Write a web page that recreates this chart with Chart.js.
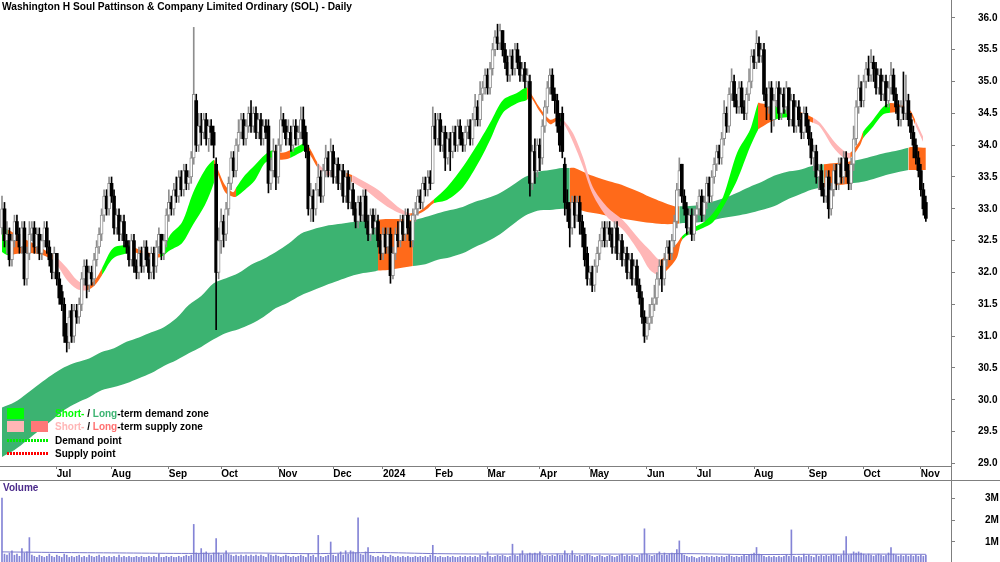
<!DOCTYPE html>
<html>
<head>
<meta charset="utf-8">
<script src="https://cdn.jsdelivr.net/npm/chart.js@4"></script>
<style>
  body { margin: 0; background: #fff; font-family: "Liberation Sans", Arial, sans-serif; }
  #wrap { position: relative; width: 1000px; height: 562px; overflow: hidden; }
  #price { position: absolute; left: 0; top: 0; }
  #vol { position: absolute; left: 0; top: 480px; }
  .title { position: absolute; left: 2px; top: 1px; font-size: 10.2px; font-weight: bold; color: #000; white-space: nowrap; }
  .legend { position: absolute; left: 7px; top: 407px; font-size: 10px; font-weight: bold; color: #000; }
  .legend .row { position: relative; height: 13.3px; line-height: 13px; white-space: nowrap; }
  .legend .sw { position: absolute; top: 1px; width: 17px; height: 11px; }
  .legend .dots { position: absolute; top: 5px; left: 0; width: 41px; height: 3px; }
  .legend .txt { position: absolute; left: 48px; top: 0; }
  .vlabel { position: absolute; left: 3px; top: 482px; font-size: 10px; font-weight: bold; color: #4b2a8a; }
  .hline { position: absolute; left: 0; top: 480px; width: 1000px; height: 1px; background: #7f7f7f; }
  .vline { position: absolute; left: 951px; top: 466px; width: 1px; height: 14px; background: #7f7f7f; }
</style>
</head>
<body>
<div id="wrap">
  <canvas id="price" width="1000" height="480"></canvas>
  <canvas id="vol" width="1000" height="82"></canvas>
  <div class="hline"></div>
  <div class="vline"></div>
  <div class="title">Washington H Soul Pattinson &amp; Company Limited Ordinary (SOL) - Daily</div>
  <div class="legend">
    <div class="row"><span class="sw" style="left:0;background:#00ff00"></span><span class="sw" style="left:24px;background:#3cb371"></span>
      <span class="txt"><span style="color:#00ff00">Short-</span> / <span style="color:#3cb371">Long</span>-term demand zone</span></div>
    <div class="row"><span class="sw" style="left:0;background:#ffb6b6"></span><span class="sw" style="left:24px;background:#ff7878"></span>
      <span class="txt"><span style="color:#ffb6b6">Short-</span> / <span style="color:#ff7070">Long</span>-term supply zone</span></div>
    <div class="row"><span class="dots" style="background:repeating-linear-gradient(90deg,#00ee00 0 2px,transparent 2px 3px)"></span><span class="txt">Demand point</span></div>
    <div class="row"><span class="dots" style="background:repeating-linear-gradient(90deg,#ff0000 0 2px,transparent 2px 3px)"></span><span class="txt">Supply point</span></div>
  </div>
  <div class="vlabel">Volume</div>
</div>
<script>
// daily bars, index 0 = early Jun 2023
var open = [
32.7,33.0,32.5,32.6,32.2,32.5,32.8,32.6,32.4,32.7,
31.9,32.3,32.6,32.7,32.4,32.6,32.3,32.5,32.7,32.4,
32.2,32.0,32.3,31.9,31.7,31.5,31.0,30.9,31.4,31.0,
31.4,31.3,31.5,31.9,32.1,31.8,32.0,31.9,32.2,32.4,
32.6,32.9,33.2,33.0,33.4,33.2,32.7,32.9,32.6,32.8,
32.5,32.4,32.2,32.5,32.1,32.0,32.3,32.1,32.4,32.2,
32.0,32.3,32.1,32.4,32.6,32.3,32.5,32.9,33.1,33.0,
33.3,33.2,33.5,33.3,33.6,33.4,33.5,33.8,34.7,34.0,
34.3,34.2,34.4,34.1,34.3,34.2,33.7,32.0,32.5,32.8,
32.6,33.0,33.4,33.8,33.6,34.0,34.2,34.4,34.1,34.3,
34.5,34.3,34.5,34.2,34.4,34.1,34.3,34.3,33.4,33.6,
33.9,33.5,34.0,34.4,34.3,34.1,34.2,34.0,34.3,34.1,
34.2,34.4,34.2,33.9,33.0,33.2,33.0,33.3,33.5,33.2,
33.6,33.8,33.6,33.9,33.5,33.7,33.4,33.6,33.2,33.5,
33.1,33.3,33.0,32.8,33.1,32.9,33.2,32.8,32.6,32.9,
32.7,32.8,32.5,32.3,32.6,32.4,32.6,31.95,32.3,32.6,
32.5,32.8,32.6,32.9,32.7,32.5,32.9,33.0,33.2,33.1,
33.4,33.3,33.5,33.4,34.3,34.1,34.4,34.0,34.2,33.8,
34.1,33.9,34.2,34.0,34.3,34.1,34.0,34.2,34.3,34.1,
34.4,34.6,34.4,34.8,34.9,35.1,34.9,35.2,35.5,35.7,
35.6,35.8,35.5,35.3,35.1,35.4,35.2,35.5,35.3,35.1,
35.2,35.0,35.0,33.4,33.9,33.6,34.0,33.8,34.3,34.6,
34.9,35.1,34.8,34.7,34.3,34.5,33.7,33.1,33.0,32.7,
33.1,32.9,33.1,32.8,32.6,32.3,31.9,32.0,31.8,32.1,
32.3,32.5,32.7,32.5,32.7,32.6,32.4,32.7,32.3,32.5,
32.2,32.3,32.0,32.2,31.9,32.1,31.8,31.6,31.3,31.0,
31.2,31.3,31.5,31.6,31.9,32.1,31.9,32.2,32.4,32.3,
32.5,32.8,33.3,33.7,33.2,33.0,32.7,32.9,32.6,32.9,
33.0,33.2,32.9,33.1,33.4,33.2,33.5,33.7,33.9,33.8,
34.1,34.5,34.3,34.8,35.0,34.7,34.6,34.9,34.6,34.5,
34.8,35.0,35.4,35.3,35.6,35.4,35.5,34.8,34.6,34.9,
34.4,34.7,34.9,34.5,34.8,34.6,34.9,34.4,34.7,34.3,
34.6,34.4,34.2,34.5,34.3,34.1,33.8,33.9,33.5,33.6,
33.3,33.2,33.5,33.0,33.3,33.6,33.4,33.7,33.5,33.8,
33.6,33.4,33.7,34.1,34.6,34.9,34.7,35.0,35.2,35.1,
35.3,35.2,34.9,35.1,34.8,35.0,34.7,34.9,35.1,34.8,
34.6,34.4,34.6,34.5,34.7,34.4,34.2,34.0,33.8,33.6,
33.3,33.1];
var high = [
33.2,33.1,32.8,32.7,32.6,32.9,32.9,32.7,32.8,32.8,
32.4,32.8,32.8,32.8,32.7,32.7,32.6,32.8,32.8,32.5,
32.3,32.4,32.3,32.0,31.8,31.6,31.2,31.4,31.5,31.5,
31.5,31.6,32.0,32.2,32.2,32.1,32.1,32.3,32.5,32.7,
33.0,33.3,33.3,33.5,33.5,33.3,33.0,33.0,32.9,32.9,
32.6,32.5,32.6,32.6,32.2,32.4,32.4,32.5,32.5,32.3,
32.4,32.4,32.5,32.7,32.6,32.6,33.0,33.3,33.2,33.4,
33.5,33.6,33.6,33.7,33.7,33.6,33.9,35.85,34.8,34.5,
34.5,34.5,34.5,34.4,34.4,34.3,33.8,32.7,33.0,32.9,
33.1,33.5,33.9,33.9,34.1,34.4,34.5,34.5,34.4,34.6,
34.7,34.6,34.6,34.5,34.5,34.4,34.4,34.4,33.8,34.1,
34.0,34.1,34.6,34.5,34.4,34.4,34.3,34.4,34.4,34.3,
34.6,34.6,34.3,34.0,33.4,33.3,33.4,33.7,33.6,33.7,
34.0,33.9,34.1,34.0,33.8,33.8,33.7,33.7,33.6,33.6,
33.5,33.4,33.1,33.2,33.2,33.3,33.3,32.9,33.0,33.0,
33.0,32.9,32.6,32.7,32.7,32.7,32.7,32.4,32.7,32.8,
32.9,32.9,33.0,33.0,32.8,33.0,33.1,33.3,33.3,33.5,
33.5,33.6,33.6,34.6,34.5,34.5,34.5,34.3,34.3,34.2,
34.2,34.3,34.3,34.4,34.4,34.2,34.3,34.4,34.4,34.5,
34.8,34.7,35.0,35.0,35.2,35.2,35.3,35.6,35.8,35.9,
35.9,35.8,35.6,35.4,35.5,35.5,35.6,35.6,35.4,35.3,
35.3,35.2,35.1,34.0,34.1,34.1,34.1,34.4,34.7,35.0,
35.2,35.2,34.9,34.8,34.5,34.6,33.8,33.3,33.1,33.2,
33.2,33.2,33.2,32.9,32.7,32.4,32.1,32.1,32.2,32.4,
32.6,32.8,32.8,32.8,32.8,32.7,32.8,32.8,32.6,32.6,
32.4,32.4,32.3,32.3,32.2,32.2,31.9,31.7,31.4,31.3,
31.5,31.6,31.8,32.0,32.2,32.2,32.3,32.5,32.5,32.6,
32.9,33.4,33.8,33.7,33.3,33.1,33.0,33.0,33.0,33.1,
33.3,33.3,33.2,33.5,33.5,33.6,33.8,34.0,34.0,34.2,
34.7,34.6,34.9,35.2,35.1,34.8,35.0,35.0,34.7,34.9,
35.2,35.5,35.5,35.8,35.7,35.6,35.6,34.9,35.0,35.0,
34.8,35.0,35.0,34.9,34.9,35.0,34.9,34.8,34.8,34.7,
34.7,34.5,34.6,34.6,34.4,34.2,34.0,34.0,33.7,33.7,
33.4,33.6,33.6,33.4,33.7,33.7,33.8,33.8,33.9,33.9,
33.7,33.8,34.3,34.7,35.1,35.0,35.1,35.3,35.4,35.5,
35.4,35.3,35.2,35.2,35.1,35.1,35.0,35.3,35.2,34.9,
34.7,34.7,35.15,35.1,34.8,34.5,34.3,34.1,33.9,33.7,
33.4,33.2];
var low = [
32.6,32.4,32.3,32.1,32.1,32.4,32.5,32.3,32.3,31.8,
31.8,32.2,32.5,32.3,32.3,32.2,32.2,32.4,32.3,32.1,
31.9,31.9,31.8,31.5,31.4,30.9,30.75,30.8,30.9,30.9,
31.2,31.2,31.4,31.8,31.6,31.7,31.8,31.8,32.1,32.3,
32.5,32.8,32.9,32.9,33.1,32.6,32.6,32.5,32.5,32.4,
32.3,32.1,32.1,32.0,31.9,31.9,32.0,32.0,32.1,31.9,
31.9,31.9,32.0,32.3,32.2,32.2,32.4,32.8,32.9,32.9,
33.1,33.1,33.2,33.2,33.3,33.3,33.4,33.7,33.9,33.9,
34.0,34.1,34.0,33.9,34.0,33.8,31.1,31.9,32.3,32.4,
32.5,32.9,33.3,33.5,33.5,33.9,34.1,34.0,34.0,34.2,
34.2,34.2,34.1,34.1,34.0,34.0,34.1,33.25,33.3,33.5,
33.3,33.4,33.9,34.2,34.0,34.0,33.9,33.9,34.0,34.0,
34.1,34.0,33.8,32.9,32.8,32.8,32.9,33.2,33.1,33.1,
33.5,33.5,33.5,33.4,33.4,33.3,33.3,33.1,33.1,33.0,
33.0,32.9,32.7,32.7,32.8,32.8,32.7,32.5,32.5,32.6,
32.6,32.4,32.2,32.2,32.3,32.3,31.83,31.9,32.2,32.4,
32.4,32.5,32.5,32.6,32.4,32.4,32.8,32.9,33.0,33.0,
33.2,33.2,33.3,33.4,34.0,34.0,33.9,33.9,33.6,33.7,
33.6,33.8,33.9,33.9,34.0,33.9,33.9,34.1,34.0,34.0,
34.3,34.3,34.3,34.7,34.8,34.8,34.8,35.1,35.4,35.5,
35.5,35.4,35.2,35.0,35.0,35.1,35.1,35.2,35.0,35.0,
34.9,34.9,33.2,33.3,33.4,33.5,33.6,33.7,34.2,34.5,
34.8,34.7,34.5,34.2,33.9,33.8,32.9,32.8,32.4,32.6,
32.7,32.8,32.6,32.4,32.1,31.8,31.8,31.7,31.7,32.0,
32.2,32.4,32.4,32.4,32.5,32.3,32.3,32.2,32.2,32.1,
32.1,31.9,31.9,31.8,31.8,31.7,31.5,31.2,30.9,30.95,
31.1,31.2,31.4,31.5,31.8,31.7,31.8,32.1,32.2,32.2,
32.4,32.7,33.2,33.1,32.9,32.6,32.6,32.5,32.5,32.8,
32.9,32.8,32.8,33.0,33.1,33.1,33.4,33.6,33.7,33.7,
34.0,34.2,34.2,34.7,34.6,34.5,34.5,34.5,34.4,34.4,
34.7,34.9,35.2,35.2,35.3,35.3,34.7,34.4,34.5,34.2,
34.3,34.6,34.4,34.4,34.5,34.5,34.3,34.3,34.2,34.2,
34.3,34.1,34.1,34.2,34.0,33.7,33.6,33.4,33.3,33.2,
33.1,33.1,32.85,32.9,33.2,33.3,33.3,33.4,33.4,33.5,
33.3,33.3,33.6,34.0,34.5,34.6,34.6,34.9,35.0,35.0,
35.0,34.8,34.8,34.7,34.7,34.6,34.6,34.8,34.7,34.5,
34.3,34.3,34.4,34.4,34.3,34.1,33.8,33.7,33.5,33.2,
32.9,32.8];
var close = [
33.0,32.5,32.6,32.2,32.5,32.8,32.6,32.4,32.7,31.9,
32.3,32.6,32.7,32.4,32.6,32.3,32.5,32.7,32.4,32.2,
32.0,32.3,31.9,31.6,31.5,31.0,30.9,31.3,31.0,31.4,
31.3,31.5,31.9,32.1,31.8,32.0,31.9,32.2,32.4,32.6,
32.9,33.2,33.0,33.4,33.2,32.7,32.9,32.6,32.8,32.5,
32.4,32.2,32.5,32.1,32.0,32.3,32.1,32.4,32.2,32.0,
32.3,32.1,32.4,32.6,32.3,32.5,32.9,33.1,33.0,33.3,
33.2,33.5,33.3,33.6,33.4,33.5,33.8,34.8,34.0,34.3,
34.2,34.4,34.1,34.3,34.2,34.0,32.0,32.5,32.8,32.6,
33.0,33.4,33.8,33.6,34.0,34.2,34.4,34.1,34.3,34.5,
34.3,34.5,34.2,34.4,34.1,34.3,34.2,33.4,33.6,33.9,
33.5,34.0,34.4,34.3,34.1,34.2,34.0,34.3,34.1,34.2,
34.4,34.1,33.9,33.0,33.2,33.0,33.3,33.5,33.2,33.6,
33.8,33.6,33.9,33.5,33.7,33.4,33.6,33.2,33.5,33.1,
33.3,33.0,32.8,33.1,32.9,33.2,32.8,32.6,32.9,32.7,
32.8,32.5,32.3,32.6,32.4,32.6,31.95,32.3,32.6,32.5,
32.8,32.6,32.9,32.7,32.5,32.9,33.0,33.2,33.1,33.4,
33.3,33.5,33.4,34.3,34.1,34.4,34.0,34.2,33.8,34.1,
33.9,34.2,34.0,34.3,34.1,34.0,34.2,34.3,34.1,34.4,
34.6,34.4,34.8,34.9,35.1,34.9,35.2,35.5,35.7,35.6,
35.8,35.5,35.3,35.1,35.4,35.2,35.5,35.3,35.1,35.2,
35.0,35.1,33.4,33.9,33.6,34.0,33.8,34.3,34.6,34.9,
35.1,34.8,34.7,34.3,34.0,33.9,33.1,33.0,32.7,33.1,
32.9,33.1,32.8,32.6,32.2,31.9,32.0,31.8,32.1,32.3,
32.5,32.7,32.5,32.7,32.6,32.4,32.7,32.3,32.5,32.2,
32.3,32.0,32.2,31.9,32.1,31.8,31.6,31.3,31.0,31.2,
31.3,31.5,31.6,31.9,32.1,31.9,32.2,32.4,32.3,32.5,
32.8,33.3,33.6,33.2,33.0,32.7,32.9,32.6,32.9,33.0,
33.2,32.9,33.1,33.4,33.2,33.5,33.7,33.9,33.8,34.1,
34.5,34.3,34.8,35.0,34.7,34.6,34.9,34.6,34.5,34.8,
35.0,35.4,35.3,35.6,35.4,35.5,34.8,34.6,34.9,34.4,
34.7,34.9,34.5,34.8,34.6,34.9,34.4,34.7,34.3,34.6,
34.4,34.2,34.5,34.3,34.1,33.8,33.9,33.5,33.6,33.3,
33.2,33.5,33.0,33.3,33.6,33.4,33.7,33.5,33.8,33.6,
33.4,33.7,34.1,34.6,34.9,34.7,35.0,35.2,35.1,35.3,
35.2,34.9,35.1,34.8,35.0,34.7,34.9,35.1,34.8,34.6,
34.4,34.6,34.5,34.7,34.4,34.2,34.0,33.8,33.6,33.3,
33.0,32.85];
// volume in millions
var volume = [
3.0,0.45,0.4,0.5,0.6,0.4,0.45,0.35,0.7,0.5,
0.55,1.2,0.4,0.35,0.3,0.4,0.35,0.3,0.35,0.45,
0.35,0.3,0.4,0.35,0.3,0.45,0.4,0.3,0.35,0.3,
0.35,0.4,0.3,0.35,0.3,0.4,0.35,0.3,0.35,0.4,
0.3,0.35,0.3,0.35,0.3,0.35,0.3,0.4,0.3,0.35,
0.3,0.35,0.3,0.3,0.35,0.3,0.35,0.3,0.3,0.35,
0.3,0.35,0.3,0.45,0.3,0.3,0.35,0.3,0.35,0.3,
0.3,0.35,0.3,0.35,0.4,0.35,0.4,1.8,0.5,0.45,
0.7,0.5,0.55,0.45,0.4,0.5,1.15,0.5,0.4,0.45,
0.6,0.45,0.4,0.35,0.4,0.35,0.4,0.35,0.4,0.35,
0.4,0.35,0.4,0.35,0.4,0.35,0.3,0.45,0.4,0.35,
0.4,0.35,0.3,0.35,0.4,0.35,0.3,0.35,0.3,0.35,
0.4,0.35,0.3,0.45,0.35,0.4,0.3,1.3,0.35,0.3,
0.35,0.4,1.0,0.4,0.35,0.45,0.55,0.4,0.6,0.45,
0.6,0.55,0.5,2.1,0.45,0.4,0.55,0.75,0.4,0.35,
0.3,0.35,0.3,0.4,0.35,0.3,0.4,0.35,0.3,0.35,
0.3,0.35,0.3,0.35,0.3,0.3,0.35,0.3,0.35,0.3,
0.35,0.3,0.4,0.85,0.35,0.3,0.35,0.3,0.3,0.35,
0.3,0.35,0.3,0.3,0.35,0.3,0.35,0.3,0.35,0.3,
0.35,0.3,0.4,0.35,0.3,0.55,0.35,0.3,0.35,0.4,
0.35,0.4,0.35,0.3,0.35,0.9,0.4,0.35,0.45,0.6,
0.4,0.45,0.5,0.45,0.5,0.45,0.55,0.4,0.35,0.4,
0.35,0.4,0.35,0.45,0.4,0.4,0.6,0.45,0.4,0.6,
0.4,0.35,0.4,0.35,0.4,0.45,0.4,0.35,0.3,0.35,
0.4,0.35,0.3,0.35,0.4,0.35,0.3,0.35,0.4,0.45,
0.35,0.4,0.35,0.4,0.35,0.3,0.4,0.45,1.6,0.45,
0.4,0.35,0.4,0.45,0.55,0.4,0.5,0.4,0.45,0.5,
0.45,0.65,1.05,0.45,0.4,0.35,0.3,0.35,0.3,0.25,
0.3,0.35,0.3,0.35,0.3,0.35,0.3,0.35,0.3,0.35,
0.3,0.35,0.4,0.35,0.3,0.35,0.3,0.35,0.4,0.35,
0.4,0.45,0.5,0.75,0.45,0.4,0.35,0.3,0.35,0.3,
0.35,0.3,0.35,0.3,0.35,0.4,0.35,1.55,0.35,0.3,
0.35,0.3,0.45,0.35,0.4,0.35,0.3,0.4,0.35,0.4,
0.35,0.4,0.35,0.4,0.45,0.4,0.35,0.4,0.6,1.25,
0.4,0.45,0.55,0.5,0.55,0.5,0.45,0.4,0.45,0.4,
0.35,0.4,0.45,0.4,0.35,0.4,0.5,0.75,0.45,0.4,
0.35,0.4,0.35,0.4,0.35,0.4,0.35,0.4,0.35,0.4,
0.35,0.4];
var volAvgX = [0,25,50,75,100,125,150,175,200,225,250,275,300,325,350,371];
var volAvg = [0.55,0.52,0.5,0.48,0.5,0.47,0.52,0.47,0.45,0.46,0.45,0.47,0.43,0.44,0.45,0.44];

// long-term zone (d = demand, s = supply)
var longX = [0,5,10,15,20,25,30,35,40,45,50,55,60,65,70,75,80,85,90,95,100,105,110,115,120,125,130,135,140,145,150,151,155,160,165,170,175,180,185,190,195,200,205,210,215,220,225,228,230,235,240,245,250,255,260,265,270,272,275,280,285,290,295,300,305,310,315,320,325,330,335,340,341,345,350,355,360,364,365,370,371];
var longTop = [29.88,29.96,30.10,30.25,30.39,30.51,30.59,30.65,30.75,30.81,30.91,30.98,31.06,31.14,31.28,31.49,31.63,31.83,31.91,31.99,32.12,32.21,32.32,32.45,32.61,32.68,32.73,32.76,32.79,32.81,32.82,32.83,32.84,32.84,32.82,32.87,32.93,32.98,33.03,33.11,33.17,33.25,33.37,33.50,33.58,33.61,33.64,33.64,33.64,33.55,33.48,33.42,33.36,33.28,33.19,33.11,33.04,33.04,33.04,33.06,33.11,33.17,33.25,33.34,33.42,33.52,33.58,33.61,33.67,33.70,33.72,33.74,33.75,33.78,33.83,33.88,33.92,33.96,33.97,33.96,33.96];
var longBot = [29.10,29.21,29.36,29.52,29.68,29.84,29.95,30.04,30.15,30.20,30.26,30.34,30.42,30.53,30.62,30.73,30.83,30.95,31.05,31.11,31.19,31.30,31.44,31.53,31.64,31.72,31.80,31.87,31.94,31.99,32.02,32.03,32.04,32.07,32.10,32.13,32.20,32.24,32.30,32.40,32.49,32.60,32.75,32.89,32.97,32.98,33.00,33.00,33.00,32.95,32.92,32.87,32.84,32.81,32.78,32.76,32.76,32.77,32.78,32.79,32.82,32.86,32.89,32.93,32.98,33.04,33.14,33.22,33.30,33.34,33.37,33.39,33.40,33.42,33.47,33.53,33.58,33.61,33.61,33.61,33.61];
var longZone = ['d','d','d','d','d','d','d','d','d','d','d','d','d','d','d','d','d','d','d','d','d','d','d','d','d','d','d','d','d','d','d','s','s','s','d','d','d','d','d','d','d','d','d','d','d','d','d','s','s','s','s','s','s','s','s','s','s','d','d','d','d','d','d','d','d','d','d','d','d','s','s','s','d','d','d','d','d','s','s','s','s'];

// short-term zone (g = demand, p / o = supply)
var shortX = [0,2.4,7.2,12.4,17.3,21.3,26.1,30.1,34.1,37.3,40.2,44.6,50.2,52.6,57.8,63.5,67.5,72.3,76.7,81.5,85.1,85.9,89.6,92.8,94.0,97.6,101.6,105.6,108.8,112.4,115.7,119.7,122.1,124.5,126.5,129.7,132.9,136.9,140.6,145.8,151.0,155.8,159.8,163.9,167.9,171.1,173.5,178.7,185.1,192.0,196.0,201.2,206.8,210.8,212.0,216.1,220.1,222.9,225.3,229.3,233.3,237.3,243.0,249.4,256.2,260.2,264.3,268.3,271.1,273.1,277.5,281.5,285.5,289.6,295.2,300.4,303.6,304.4,310.4,315.3,320.5,325.7,328.5,333.7,337.8,340.6,344.6,345.8,349.8,353.8,356.6,361.8,364.7,366.7,369.9];
var shortTop = [32.70,32.67,32.56,32.46,32.35,32.26,32.07,31.88,31.80,31.88,32.07,32.38,32.43,32.40,32.32,32.30,32.59,32.79,33.25,33.61,33.77,33.70,33.37,33.26,33.33,33.53,33.69,33.85,33.92,33.88,33.92,34.00,34.03,33.89,33.74,33.61,33.58,33.58,33.53,33.42,33.30,33.14,33.01,32.93,32.97,33.07,33.15,33.34,33.66,34.08,34.35,34.71,34.82,34.91,34.84,34.58,34.40,34.43,34.40,34.19,33.81,33.34,33.03,32.82,32.51,32.35,32.20,32.35,32.46,32.57,32.70,32.78,32.93,33.19,33.88,34.24,34.66,34.66,34.62,34.55,34.52,34.43,34.35,34.08,33.92,33.88,34.08,34.21,34.40,34.60,34.66,34.62,34.55,34.40,34.13];
var shortBot = [32.32,32.27,32.30,32.30,32.26,32.16,31.88,31.74,31.72,31.80,31.96,32.22,32.30,32.32,32.26,32.24,32.35,32.46,32.75,33.06,33.41,33.60,33.26,33.19,33.19,33.30,33.45,33.72,33.77,33.77,33.80,33.88,33.92,33.80,33.66,33.53,33.52,33.50,33.42,33.30,33.14,33.01,32.93,32.89,32.93,33.01,33.09,33.14,33.34,33.77,34.08,34.51,34.66,34.71,34.77,34.52,34.33,34.38,34.35,34.05,33.66,33.22,32.87,32.67,32.30,32.04,31.96,32.09,32.24,32.51,32.63,32.70,32.79,33.03,33.45,33.97,34.24,34.27,34.40,34.44,34.43,34.35,34.29,33.97,33.81,33.80,34.00,34.11,34.29,34.48,34.51,34.52,34.49,34.32,34.05];
var shortZone = ['g','o','o','o','o','p','p','p','o','o','g','g','g','o','o','g','g','g','g','g','o','o','o','o','g','g','g','g','o','o','g','g','o','o','p','p','o','o','p','p','p','p','p','o','o','o','g','g','g','g','g','g','g','o','o','o','o','g','p','p','p','p','p','p','p','p','o','o','o','g','g','g','g','g','g','g','o','o','g','o','o','p','p','p','p','o','o','g','g','g','o','o','o','p','p'];

var monthTicks = [22,44,67,88,111,133,153,174,195,216,236,259,279,302,324,346,369];
var monthLabels = ['Jul','Aug','Sep','Oct','Nov','Dec','2024','Feb','Mar','Apr','May','Jun','Jul','Aug','Sep','Oct','Nov'];
var priceTicks = [29.0,29.5,30.0,30.5,31.0,31.5,32.0,32.5,33.0,33.5,34.0,34.5,35.0,35.5,36.0];
var volTicks = [1,2,3];

var zoneColors = { d: '#3cb371', s: '#ff6a1a', g: '#00ff00', p: '#ffb6b6', o: '#ff6a1a' };
var axisGrey = '#7f7f7f';
var upGrey = '#8e8e8e';
Chart.defaults.font.family = '"Liberation Sans", Arial, sans-serif';
Chart.defaults.font.size = 10;
Chart.defaults.font.weight = 'bold';
Chart.defaults.color = '#000';

function pts(xs, ys) { return xs.map(function(x, i) { return { x: x, y: ys[i] }; }); }
function bandLine(xs, ys, order) {
  return { type: 'line', data: pts(xs, ys), borderWidth: 0, pointRadius: 0, tension: 0.3, order: order, fill: false };
}
// keep the plot area flush with the canvas edges
function fitY(s) { s.width = 49; s.paddingTop = 0; s.paddingBottom = 0; }
function fitX(s) { s.height = 14; s.paddingLeft = 0; s.paddingRight = 0; }

var up = close.map(function(c, i) { return c >= open[i]; });

var longUpper = bandLine(longX, longTop, 3);
var longLower = bandLine(longX, longBot, 3);
longLower.fill = 0;
longLower.backgroundColor = zoneColors.d;
longLower.segment = { backgroundColor: function(ctx) { return zoneColors[longZone[ctx.p0DataIndex]]; } };

var shortUpper = bandLine(shortX, shortTop, 2);
var shortLower = bandLine(shortX, shortBot, 2);
shortLower.fill = 2;
shortLower.backgroundColor = zoneColors.g;
shortLower.segment = { backgroundColor: function(ctx) { return zoneColors[shortZone[ctx.p0DataIndex]]; } };

new Chart(document.getElementById('price'), {
  type: 'bar',
  data: {
    datasets: [
      longUpper, longLower, shortUpper, shortLower,
      {
        // wicks
        data: close.map(function(c, i) { return { x: i, y: [low[i], high[i]] }; }),
        backgroundColor: up.map(function(u) { return u ? upGrey : '#000'; }),
        barThickness: 1, grouped: false, order: 1
      },
      {
        // bodies
        data: close.map(function(c, i) { return { x: i, y: [open[i], c] }; }),
        backgroundColor: up.map(function(u) { return u ? '#ffffff' : '#000'; }),
        borderColor: up.map(function(u) { return u ? upGrey : '#000'; }),
        borderWidth: up.map(function(u) { return u ? 1 : 0; }),
        borderSkipped: false, minBarLength: 1,
        barThickness: up.map(function(u) { return u ? 3 : 2; }), grouped: false, order: 0
      }
    ]
  },
  options: {
    responsive: false, animation: false, events: [],
    layout: { padding: 0 },
    plugins: { legend: { display: false }, tooltip: { enabled: false } },
    scales: {
      x: {
        type: 'linear', min: -0.8, max: 381.1, offset: false,
        afterFit: fitX,
        afterBuildTicks: function(s) { s.ticks = monthTicks.map(function(v) { return { value: v }; }); },
        ticks: {
          autoSkip: false, maxRotation: 0, align: 'start', padding: -1,
          callback: function(v) { return monthLabels[monthTicks.indexOf(v)]; }
        },
        grid: { drawOnChartArea: false, tickLength: 3, tickColor: axisGrey, offset: false },
        border: { color: axisGrey }
      },
      y: {
        position: 'right', min: 28.96, max: 36.28,
        afterFit: fitY,
        afterBuildTicks: function(s) { s.ticks = priceTicks.map(function(v) { return { value: v }; }); },
        ticks: { padding: 23, callback: function(v) { return v.toFixed(1); } },
        grid: { drawOnChartArea: false, tickLength: 4, tickColor: axisGrey },
        border: { color: axisGrey }
      }
    }
  }
});

new Chart(document.getElementById('vol'), {
  type: 'bar',
  data: {
    datasets: [
      {
        type: 'line', data: pts(volAvgX, volAvg), borderColor: '#7a7acc', borderWidth: 1,
        pointRadius: 0, tension: 0.3, order: 0
      },
      {
        data: volume.map(function(v, i) { return { x: i, y: v }; }),
        backgroundColor: '#8484d6', barThickness: 1, order: 1
      }
    ]
  },
  options: {
    responsive: false, animation: false, events: [],
    layout: { padding: 0 },
    plugins: { legend: { display: false }, tooltip: { enabled: false } },
    scales: {
      x: { type: 'linear', min: -0.8, max: 381.1, offset: false, display: false },
      y: {
        position: 'right', min: 0.09, max: 3.82,
        afterFit: fitY,
        afterBuildTicks: function(s) { s.ticks = volTicks.map(function(v) { return { value: v }; }); },
        ticks: { padding: 30, callback: function(v) { return v + 'M'; } },
        grid: { drawOnChartArea: false, tickLength: 4, tickColor: axisGrey },
        border: { color: axisGrey }
      }
    }
  }
});
</script>
</body>
</html>
